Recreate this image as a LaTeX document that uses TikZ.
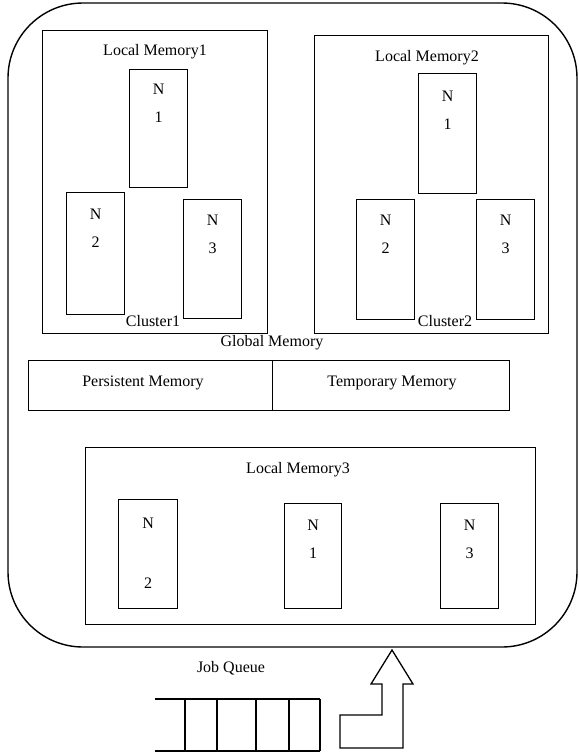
\documentclass[tikz,border=0pt]{standalone}
\usepackage{fontspec}
\setmainfont{Liberation Serif}
\usetikzlibrary{positioning}

\begin{document}
\begin{tikzpicture}[
        x=1pt, y=-1pt,
        outline/.style={
            draw,
            line width=1.4pt,
            rounded corners=75pt
        },
        membox/.style={
            draw,
            line width=1.3pt,
            anchor=north west,
            inner sep=0pt
        },
        nodebox/.style={
            draw,
            line width=1.3pt,
            anchor=north west,
            minimum width=58pt,
            minimum height=118pt,
            inner sep=0pt
        },
        txt/.style={
            font=\fontsize{16}{28}\selectfont,
            align=center,
            inner sep=0pt
        }
    ]

    \useasboundingbox (0,0) rectangle (579,756);

    % outer system
    \draw[outline] (8,3) rectangle (577,647);

    % cluster 1
    \node[membox, minimum width=225pt, minimum height=303pt] (lm1) at (42,30) {};
    \node[txt] (lm1label) at (155,52) {Local Memory1};
    \node[nodebox] (c1n1) at (129,69) {};
    \node[nodebox, minimum height=122pt] (c1n2) at (66,192) {};
    \node[nodebox, minimum height=119pt] (c1n3) at (183,199) {};
    \node[txt] at ([yshift=-34pt]c1n1.north) {N\\1};
    \node[txt] at ([yshift=-36pt]c1n2.north) {N\\2};
    \node[txt] at ([yshift=-35pt]c1n3.north) {N\\3};
    \node[txt] (c1label) at (153,321) {Cluster1};

    % cluster 2
    \node[membox, minimum width=234pt, minimum height=298pt] (lm2) at (314,35) {};
    \node[txt] (lm2label) at (427,58) {Local Memory2};
    \node[nodebox, minimum height=120pt] (c2n1) at (418,73) {};
    \node[nodebox, minimum height=120pt] (c2n2) at (356,199) {};
    \node[nodebox, minimum height=120pt] (c2n3) at (476,199) {};
    \node[txt] at ([yshift=-37pt]c2n1.north) {N\\1};
    \node[txt] at ([yshift=-35pt]c2n2.north) {N\\2};
    \node[txt] at ([yshift=-35pt]c2n3.north) {N\\3};
    \node[txt] (c2label) at (445,321) {Cluster2};

    % global memory
    \node[txt] (gmlabel) at (272,343) {Global Memory};
    \node[membox, minimum width=244pt, minimum height=50pt] (pm) at (28,360) {};
    \node[membox, minimum width=237pt, minimum height=50pt] (tm) at (272,360) {};
    \node[txt] at (143,383) {Persistent Memory};
    \node[txt] at (392,383) {Temporary Memory};

    % local memory 3
    \node[membox, minimum width=450pt, minimum height=177pt] (lm3) at (85,447) {};
    \node[txt] (lm3label) at (298,470) {Local Memory3};
    \node[nodebox, minimum width=59pt, minimum height=109pt] (m3n2) at (118,499) {};
    \node[nodebox, minimum width=57pt, minimum height=105pt] (m3n1) at (284,503) {};
    \node[nodebox, minimum width=58pt, minimum height=105pt] (m3n3) at (440,503) {};
    \node[txt] at ([yshift=-54pt]m3n2.north) {N\\[32pt]2};
    \node[txt] at ([yshift=-36pt]m3n1.north) {N\\1};
    \node[txt] at ([yshift=-36pt]m3n3.north) {N\\3};

    % job queue
    \node[txt] (jqlabel) at (231,668) {Job Queue};
    \draw[line width=1.3pt] (155,699) -- (320,699);
    \draw[line width=1.3pt] (155,751) -- (320,751);
    \foreach \xq in {185,217,256,289,320}{
        \draw[line width=1.3pt] (\xq,699) -- (\xq,751);
    }

    % arrow into the system
    \draw[line width=1.3pt] (340,748) -- (340,715) -- (382,715) -- (382,684)
        -- (371,684) -- (392,650) -- (413,684) -- (403,684) -- (403,748) -- cycle;

\end{tikzpicture}
\end{document}
